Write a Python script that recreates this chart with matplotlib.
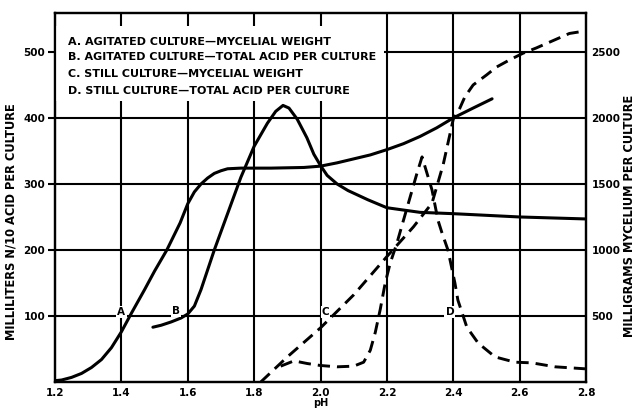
import matplotlib
matplotlib.use("Agg")
import matplotlib.pyplot as plt
from matplotlib.patches import Rectangle

plt.rcParams['font.family'] = ['DejaVu Sans']
plt.rcParams['font.weight'] = 'bold'

# pH values and measured responses
ph_a = [1.20, 1.22, 1.25, 1.28, 1.31, 1.34, 1.37, 1.40, 1.43, 1.47, 1.50, 1.537, 1.577,
        1.60, 1.62, 1.64, 1.66, 1.68, 1.70, 1.72, 1.76, 1.85, 1.95, 2.00, 2.05, 2.10,
        2.15, 2.20, 2.25, 2.30, 2.35, 2.40, 2.46, 2.517]
myc_agitated = [10, 15, 35, 65, 110, 170, 260, 380, 520, 700, 840, 1000, 1205,
                1350, 1440, 1500, 1545, 1580, 1600, 1615, 1620, 1620, 1625, 1635, 1660, 1690,
                1720, 1760, 1805, 1860, 1925, 2000, 2075, 2145]  # mg

ph_b = [1.495, 1.52, 1.55, 1.58, 1.60, 1.62, 1.64, 1.66, 1.68, 1.72, 1.76, 1.80, 1.84,
        1.865, 1.887, 1.905, 1.93, 1.959, 1.98, 2.00, 2.02, 2.05, 2.083, 2.143, 2.20,
        2.30, 2.40, 2.60, 2.80]
acid_agitated = [83, 86, 91, 97, 103, 115, 140, 170, 200, 255, 310, 357, 392,
                 410, 419, 415, 398, 370, 345, 328, 313, 300, 290, 276, 264,
                 257, 255, 250, 247]  # ml N/10

ph_c = [1.82, 1.90, 2.00, 2.10, 2.20, 2.28, 2.336, 2.37, 2.40, 2.42, 2.435, 2.46, 2.50,
        2.53, 2.57, 2.61, 2.65, 2.70, 2.75, 2.80]
myc_still = [0, 190, 410, 660, 950, 1175, 1355, 1650, 1990, 2075, 2160, 2250, 2325,
             2385, 2440, 2490, 2530, 2585, 2640, 2660]  # mg

ph_d = [1.88, 1.92, 1.96, 2.00, 2.05, 2.10, 2.13, 2.15, 2.165, 2.18, 2.195, 2.21, 2.23,
        2.25, 2.27, 2.29, 2.306, 2.324, 2.336, 2.354, 2.366, 2.384, 2.405, 2.414, 2.441,
        2.475, 2.526, 2.586, 2.637, 2.707, 2.797]
acid_still = [24, 32, 28, 25, 23, 24, 30, 48, 75, 110, 150, 180, 210,
              245, 280, 315, 341, 311, 291, 245, 226, 200, 150, 124, 83,
              59, 38, 30, 29, 23, 20]  # ml N/10

ph_ticks = [1.2, 1.4, 1.6, 1.8, 2.0, 2.2, 2.4, 2.6, 2.8]
ph_ticklabels = ["1.2", "1.4", "1.6", "1.8", "2.0", "2.2", "2.4", "2.6", "2.8"]
acid_ticks = [100, 200, 300, 400, 500]
myc_ticks = [500, 1000, 1500, 2000, 2500]

legend_lines = [
    "A. AGITATED CULTURE\u2014MYCELIAL WEIGHT",
    "B. AGITATED CULTURE\u2014TOTAL ACID PER CULTURE",
    "C. STILL CULTURE\u2014MYCELIAL WEIGHT",
    "D. STILL CULTURE\u2014TOTAL ACID PER CULTURE",
]

ACID_MAX = 559
MG_PER_ML = 5

fig = plt.figure(figsize=(6.35, 4.08), dpi=100)
ax = fig.add_axes([55 / 635, 1 - 382 / 408, 531 / 635, 369 / 408])
ax2 = ax.twinx()

ax.set_xlim(1.2, 2.8)
ax.set_ylim(0, ACID_MAX)
ax2.set_ylim(0, ACID_MAX * MG_PER_ML)

grid_kw = dict(color="black", lw=1.5, zorder=1, solid_capstyle="butt")
for x in ph_ticks[1:-1]:
    ax.axvline(x, **grid_kw)
for y in acid_ticks:
    ax.axhline(y, **grid_kw)

for a in (ax, ax2):
    for s in a.spines.values():
        s.set_linewidth(1.6)

# blank panel behind the key
ax.add_patch(Rectangle((1.2, 425), 2.19 - 1.2, 537 - 425, facecolor="white",
                       edgecolor="none", zorder=2))
ax.add_patch(Rectangle((1.2, 425), 2.01 - 1.2, 540 - 425, facecolor="white",
                       edgecolor="none", zorder=2))
key_y = [515, 492, 467, 441]
for txt, y in zip(legend_lines, key_y):
    ax.text(1.238, y, txt, fontsize=8.0, fontweight="bold", va="center", ha="left", zorder=3)

curve_kw = dict(color="black", lw=2.2, solid_joinstyle="round", solid_capstyle="round", zorder=4)
dash_kw = dict(color="black", lw=2.1, dashes=(4.2, 2.4), dash_capstyle="butt", zorder=4)

ax2.plot(ph_a, myc_agitated, **curve_kw)
ax.plot(ph_b, acid_agitated, **curve_kw)
ax2.plot(ph_c, myc_still, **dash_kw)
ax.plot(ph_d, acid_still, **dash_kw)

lab_kw = dict(fontsize=7.5, fontweight="bold", ha="center", va="center", zorder=5,
              bbox=dict(facecolor="white", edgecolor="none", pad=0.8))
ax.text(1.40, 106, "A", **lab_kw)
ax.text(1.565, 108, "B", **lab_kw)
ax.text(2.015, 106, "C", **lab_kw)
ax.text(2.39, 106, "D", **lab_kw)

ax.set_xticks(ph_ticks)
ax.set_xticklabels(ph_ticklabels)
ax.set_yticks(acid_ticks)
ax2.set_yticks(myc_ticks)
ax.tick_params(axis="x", length=0, pad=4, labelsize=7.5)
ax.tick_params(axis="y", length=5, width=1.5, pad=2, labelsize=7.5)
ax2.tick_params(axis="y", length=0, pad=4, labelsize=7.5)
for lbl in ax.get_xticklabels() + ax.get_yticklabels() + ax2.get_yticklabels():
    lbl.set_fontweight("bold")

ax.set_xlabel("pH", fontsize=7, fontweight="bold", labelpad=0)
ax.set_ylabel("MILLILITERS N/10 ACID PER CULTURE", fontsize=8.3, fontweight="bold")
ax2.set_ylabel("MILLIGRAMS MYCELIUM PER CULTURE", fontsize=8.3, fontweight="bold")
ax.yaxis.set_label_coords(-0.071, 0.434)
ax2.yaxis.set_label_coords(1.070, 0.45)

ax.set_zorder(ax2.get_zorder() + 1)
ax.patch.set_visible(False)

fig.savefig("out.png", dpi=100)
